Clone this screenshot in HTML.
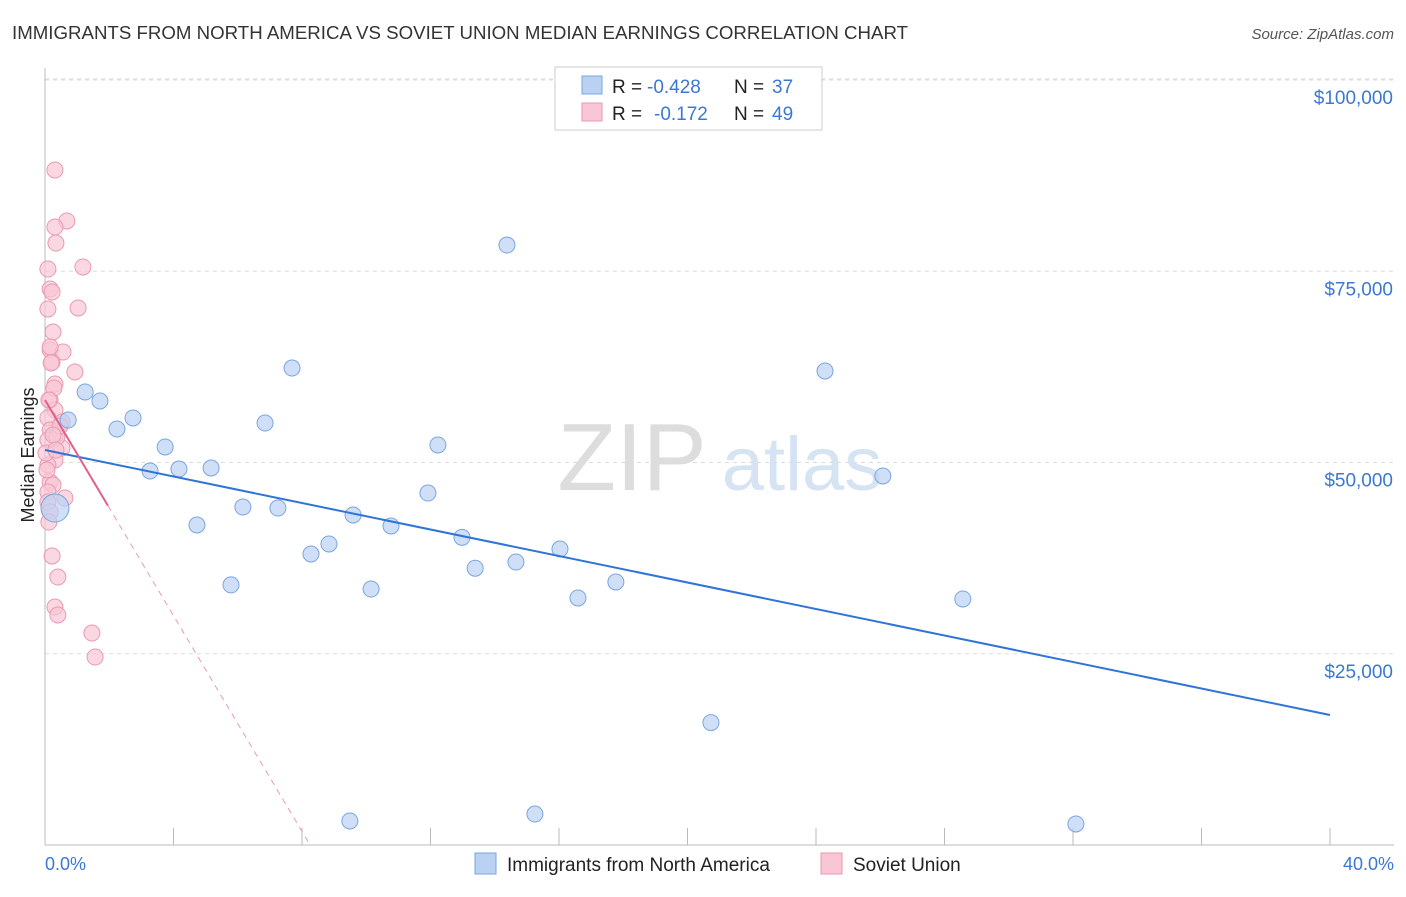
<!DOCTYPE html>
<html><head><meta charset="utf-8"><style>
body{margin:0;background:#fff;font-family:"Liberation Sans",sans-serif;}
svg text{font-family:"Liberation Sans",sans-serif;}
</style></head><body>
<svg id="c" width="1406" height="892">
<text x="12" y="39" font-size="18" fill="#333" textLength="896" lengthAdjust="spacingAndGlyphs">IMMIGRANTS FROM NORTH AMERICA VS SOVIET UNION MEDIAN EARNINGS CORRELATION CHART</text>
<text x="1394" y="39" font-size="15" fill="#555" font-style="italic" text-anchor="end">Source: ZipAtlas.com</text>
<g><text x="632" y="490" font-size="96" fill="#ddd" font-family="Liberation Serif" text-anchor="middle">ZIP</text><text x="802" y="490" font-size="76" fill="#d6e3f3" text-anchor="middle">atlas</text></g>
<g id="grid"></g><g id="axes"></g><g id="marks"></g>
<text transform="translate(34,455) rotate(-90)" font-size="18" fill="#222" text-anchor="middle">Median Earnings</text>
<text x="45" y="870" font-size="18" fill="#3a78d4">0.0%</text>
<text x="1394" y="870" font-size="18" fill="#3a78d4" text-anchor="end">40.0%</text>
<g>
<rect x="555" y="67" width="267" height="63" fill="#fff" stroke="#ccc"/>
<rect x="582" y="76" width="20" height="18" fill="#b9d2f3" stroke="#7aa6e0"/>
<text x="612" y="93" font-size="19" fill="#222">R =</text>
<text x="647" y="93" font-size="19" fill="#3a78d4">-0.428</text>
<text x="734" y="93" font-size="19" fill="#222">N =</text>
<text x="772" y="93" font-size="19" fill="#3a78d4">37</text>
<rect x="582" y="103" width="20" height="18" fill="#f8c6d4" stroke="#e99ab2"/>
<text x="612" y="120" font-size="19" fill="#222">R =</text>
<text x="654" y="120" font-size="19" fill="#3a78d4">-0.172</text>
<text x="734" y="120" font-size="19" fill="#222">N =</text>
<text x="772" y="120" font-size="19" fill="#3a78d4">49</text>
</g>
<g>
<rect x="475" y="853" width="21" height="21" fill="#b9d2f3" stroke="#7aa6e0"/>
<text x="507" y="871" font-size="19" fill="#222">Immigrants from North America</text>
<rect x="821" y="853" width="21" height="21" fill="#f8c6d4" stroke="#e99ab2"/>
<text x="853" y="871" font-size="19" fill="#222">Soviet Union</text>
</g>
</svg>
<script>
const yTicks=[25000,50000,75000,100000];
const yTickLabels=["$25,000","$50,000","$75,000","$100,000"];
const xTicks=[0,4,8,12,16,20,24,28,32,36,40];
const blueX=[0.31,0.72,1.25,1.71,2.24,2.74,3.27,3.74,4.17,4.73,5.17,5.79,6.16,6.85,7.25,7.69,8.28,8.84,9.49,9.59,10.15,10.77,11.92,12.23,12.98,13.39,14.38,14.66,15.25,16.03,16.59,17.77,20.73,24.28,26.08,28.57,32.09];
const blueY=[44050,55560,59220,58040,54380,55820,48890,52030,49150,41830,49280,34000,44180,55160,44050,62350,38040,39350,3140,43140,33460,41700,46010,52290,40220,36180,78430,36990,4050,38690,32290,34380,16000,61960,48240,32160,2750];
const pinkX=[0.31,0.68,0.31,0.34,0.09,1.18,0.16,0.22,1.03,0.09,0.25,0.16,0.56,0.22,0.93,0.31,0.16,0.31,0.09,0.53,0.16,0.31,0.09,0.53,0.31,0.09,0.16,0.25,0.09,0.62,0.09,0.16,0.22,0.40,0.31,0.40,1.46,1.56,0.16,0.28,0.37,0.03,0.47,0.12,0.06,0.19,0.25,0.12,0.34];
const pinkY=[88240,81570,80780,78690,75290,75560,72680,72290,70200,70070,67060,64710,64440,63140,61830,60260,58170,56860,55820,55290,54250,53460,52940,51900,50330,49670,47460,47060,46140,45360,44840,43530,37780,35030,31110,30070,27710,24570,65100,59740,53330,51240,54770,42220,49020,63010,53590,58170,51630];
const blueLine=[51634,16993];
const pinkLine=[58170,-7050];
const NS="http://www.w3.org/2000/svg";
const X=p=>45+p*32.125, Y=v=>845-v*0.00765;
function el(t,a,parent){const e=document.createElementNS(NS,t);for(const k in a)e.setAttribute(k,a[k]);document.getElementById(parent).appendChild(e);return e;}
yTicks.forEach((v,i)=>{
 const g=el('line',{x1:45,x2:1394,y1:Y(v),y2:Y(v),stroke:'#ddd','stroke-dasharray':'4,4'},'grid');
 
 
 const t=el('text',{x:1393,y:Y(v)+24,'font-size':19,fill:'#3a78d4','text-anchor':'end'},'axes');
 t.textContent=yTickLabels[i];
 
 
});
const tg=el('line',{x1:45,x2:1394,y1:79,y2:79,stroke:'#ddd','stroke-dasharray':'4,4'},'grid');


const ya=el('line',{x1:45,x2:45,y1:68,y2:845,stroke:'#bbb'},'axes');


const xa=el('line',{x1:45,x2:1394,y1:845,y2:845,stroke:'#bbb'},'axes');


xTicks.forEach(p=>{const t=el('line',{x1:X(p),x2:X(p),y1:828,y2:845,stroke:'#bbb'},'axes');
 
 });
pinkX.forEach((p,i)=>{const c=el('circle',{cx:X(p),cy:Y(pinkY[i]),r:8,fill:'#f8c6d4','fill-opacity':0.7,stroke:'#e99ab2','stroke-width':1},'marks');
 
 });
blueX.forEach((p,i)=>{const c=el('circle',{cx:X(p),cy:Y(blueY[i]),r:i==0?14:8,fill:'#b9d2f3','fill-opacity':0.7,stroke:'#7aa6e0','stroke-width':1},'marks');
 
 });
const bl=el('line',{x1:X(0),y1:Y(blueLine[0]),x2:X(40),y2:Y(blueLine[1]),stroke:'#2f74d6','stroke-width':2},'marks');


const pz=-pinkLine[0]/pinkLine[1];
const pd=el('line',{x1:X(1.96),y1:Y(pinkLine[0]+pinkLine[1]*1.96),x2:X(pz),y2:Y(0),stroke:'#e99ab2','stroke-width':1,'stroke-dasharray':'6,5'},'marks');


const ps=el('line',{x1:X(0),y1:Y(pinkLine[0]),x2:X(1.96),y2:Y(pinkLine[0]+pinkLine[1]*1.96),stroke:'#e0608a','stroke-width':2},'marks');


</script>
</body></html>
